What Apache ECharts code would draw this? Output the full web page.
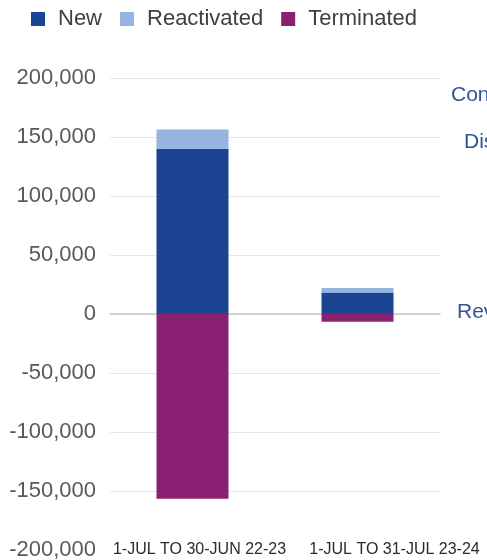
<!DOCTYPE html>
<html>
<head>
<meta charset="utf-8">
<script src="https://cdn.jsdelivr.net/npm/echarts@6/dist/echarts.min.js"></script>
<style>
    html, body { margin: 0; padding: 0; background: #fff; }
    #member-flow-chart { width: 487px; height: 560px; }
</style>
</head>
<body>
<div id="member-flow-chart"></div>
<script>
// data
var categories = ['1-JUL TO 30-JUN 22-23', '1-JUL TO 31-JUL 23-24'];
var newValues = [140000, 18300];
var reactivatedValues = [16400, 3700];
var terminatedValues = [-156500, -6500];
var yTicks = [-200000, -150000, -100000, -50000, 0, 50000, 100000, 150000, 200000];
var sideNotes = ['Con', 'Dis', 'Rev'];

var colors = ['#1b4592', '#95b4e1', '#8a2072'];
var fontFamily = '"Liberation Sans", Arial, sans-serif';

var myChart = echarts.init(document.getElementById('member-flow-chart'));

function sideText(text, x, y) {
    return {
        type: 'text', x: x, y: y,
        style: { text: text, fill: '#2f5597', font: '21px ' + fontFamily, verticalAlign: 'middle' }
    };
}

function lineOption() {
    var option = {
        color: colors,
        animation: false,
        textStyle: { fontFamily: fontFamily },
        legend: {
            left: 31,
            top: 8,
            padding: 0,
            icon: 'rect',
            itemWidth: 14,
            itemHeight: 14,
            itemGap: 18,
            textStyle: {
                color: '#404040',
                fontSize: 22,
                fontFamily: fontFamily,
                padding: [0, 0, 0, 8]
            },
            data: ['New', 'Reactivated', 'Terminated']
        },
        grid: {
            top: 78,
            left: 110,
            right: 47,
            bottom: 10,
            outerBoundsMode: 'none'
        },
        xAxis: [
            {
                // labels along the bottom
                type: 'category',
                data: categories,
                axisLine: { show: false, onZero: false },
                axisTick: { show: false },
                axisLabel: {
                    interval: 0,
                    margin: -8,
                    formatter: function (value, idx) {
                        return (idx === 0 ? '{a|' : '{b|') + value + '}';
                    },
                    rich: {
                        a: { fontSize: 16, color: '#2b2b2b', fontFamily: fontFamily, padding: [0, 0, 0, 14] },
                        b: { fontSize: 16, color: '#2b2b2b', fontFamily: fontFamily, padding: [0, 0, 0, 74] }
                    }
                }
            },
            {
                // zero line, drawn under the bars
                type: 'category',
                data: categories,
                position: 'bottom',
                axisLine: { show: true, onZero: true, lineStyle: { color: '#c6c6c6', width: 1.5 } },
                axisTick: { show: false },
                axisLabel: { show: false }
            }
        ],
        yAxis: {
            type: 'value',
            min: yTicks[0],
            max: yTicks[yTicks.length - 1],
            interval: 50000,
            axisLine: { show: false },
            axisTick: { show: false },
            axisLabel: {
                margin: 14,
                color: '#595959',
                fontSize: 22,
                fontFamily: fontFamily,
                formatter: function (v) {
                    return v.toLocaleString('en-US');
                }
            },
            splitLine: {
                showMinLine: false,
                lineStyle: { color: '#e6e6e6', width: 1 }
            }
        },
        graphic: [
            sideText(sideNotes[0], 451, 95),
            sideText(sideNotes[1], 464, 142),
            sideText(sideNotes[2], 457, 312)
        ],
        series: [
            {
                name: 'New',
                type: 'bar',
                stack: 'total',
                barWidth: 72,
                data: newValues
            },
            {
                name: 'Reactivated',
                type: 'bar',
                stack: 'total',
                barWidth: 72,
                data: reactivatedValues
            },
            {
                name: 'Terminated',
                type: 'bar',
                stack: 'total',
                barWidth: 72,
                data: terminatedValues
            }
        ]
    };
    return option;
}

myChart.setOption(lineOption());
</script>
</body>
</html>
